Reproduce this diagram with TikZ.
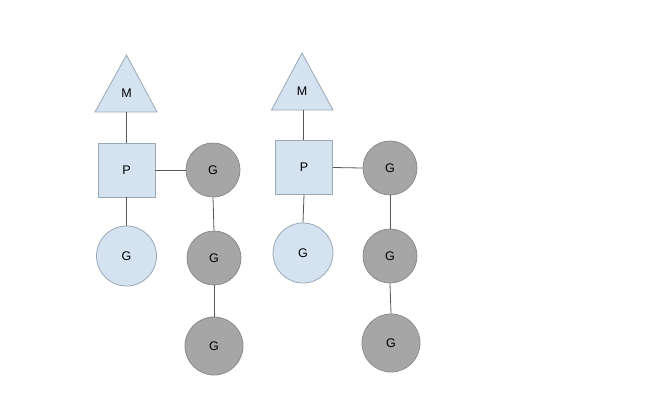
\documentclass[tikz,border=0pt]{standalone}
\usepackage{fontspec}
\setmainfont{Liberation Sans}
\definecolor{lblue}{HTML}{D5E3F1}
\definecolor{lblueb}{HTML}{9AA8B6}
\definecolor{gfill}{HTML}{A6A6A6}
\definecolor{gbord}{HTML}{8C8C8C}
\definecolor{lnc}{HTML}{555555}
\begin{document}
\begin{tikzpicture}[x=1pt,y=-1pt,
  every node/.style={font=\fontsize{12.5}{14}\selectfont, inner sep=0pt},
  tri/.style={fill=lblue, draw=lblueb, line width=0.8pt, line join=miter},
  pbox/.style={rectangle, fill=lblue, draw=lblueb, line width=0.8pt, minimum width=57pt, minimum height=54pt},
  gblue/.style={circle, fill=lblue, draw=lblueb, line width=0.8pt, minimum size=60pt},
  ggray/.style={circle, fill=gfill, draw=gbord, line width=0.8pt, minimum size=54pt},
  ggray3/.style={circle, fill=gfill, draw=gbord, line width=0.8pt, minimum size=58pt},
  conn/.style={draw=lnc, line width=0.8pt}]
\useasboundingbox (0,0) rectangle (659,400);
% left group
\coordinate (ma1) at (126.5,55);
\coordinate (mb1l) at (95,112);
\coordinate (mb1r) at (157,112);
\coordinate (mb1) at (126.5,112);
\path[tri] (ma1) -- (mb1r) -- (mb1l) -- cycle;
\node (m1) at (126.5,93) {M};
\node[pbox] (p1) at (126.5,170) {P};
\node[gblue] (gb1) at (126.5,256) {G};
\node[ggray] (g11) at (213,170) {G};
\node[ggray] (g12) at (214,258) {G};
\node[ggray3] (g13) at (214,346) {G};
\draw[conn] (mb1) -- (p1.north);
\draw[conn] (p1.east) -- (g11.west);
\draw[conn] (p1.south) -- (gb1.north);
\draw[conn] (g11.south) -- (g12.north);
\draw[conn] (g12.south) -- (g13.north);
% right group
\coordinate (ma2) at (302,53);
\coordinate (mb2l) at (271.5,110);
\coordinate (mb2r) at (333,110);
\coordinate (mb2) at (303,110);
\path[tri] (ma2) -- (mb2r) -- (mb2l) -- cycle;
\node (m2) at (302,91) {M};
\node[pbox] (p2) at (304,167.5) {P};
\node[gblue] (gb2) at (303,253) {G};
\node[ggray] (g21) at (390,168) {G};
\node[ggray] (g22) at (390,256) {G};
\node[ggray3] (g23) at (391,343) {G};
\draw[conn] (mb2) -- (mb2 |- p2.north);
\draw[conn] (p2.east) -- (g21.west);
\draw[conn] (p2.south) -- (gb2.north);
\draw[conn] (g21.south) -- (g22.north);
\draw[conn] (g22.south) -- (g23.north);
\end{tikzpicture}
\end{document}
